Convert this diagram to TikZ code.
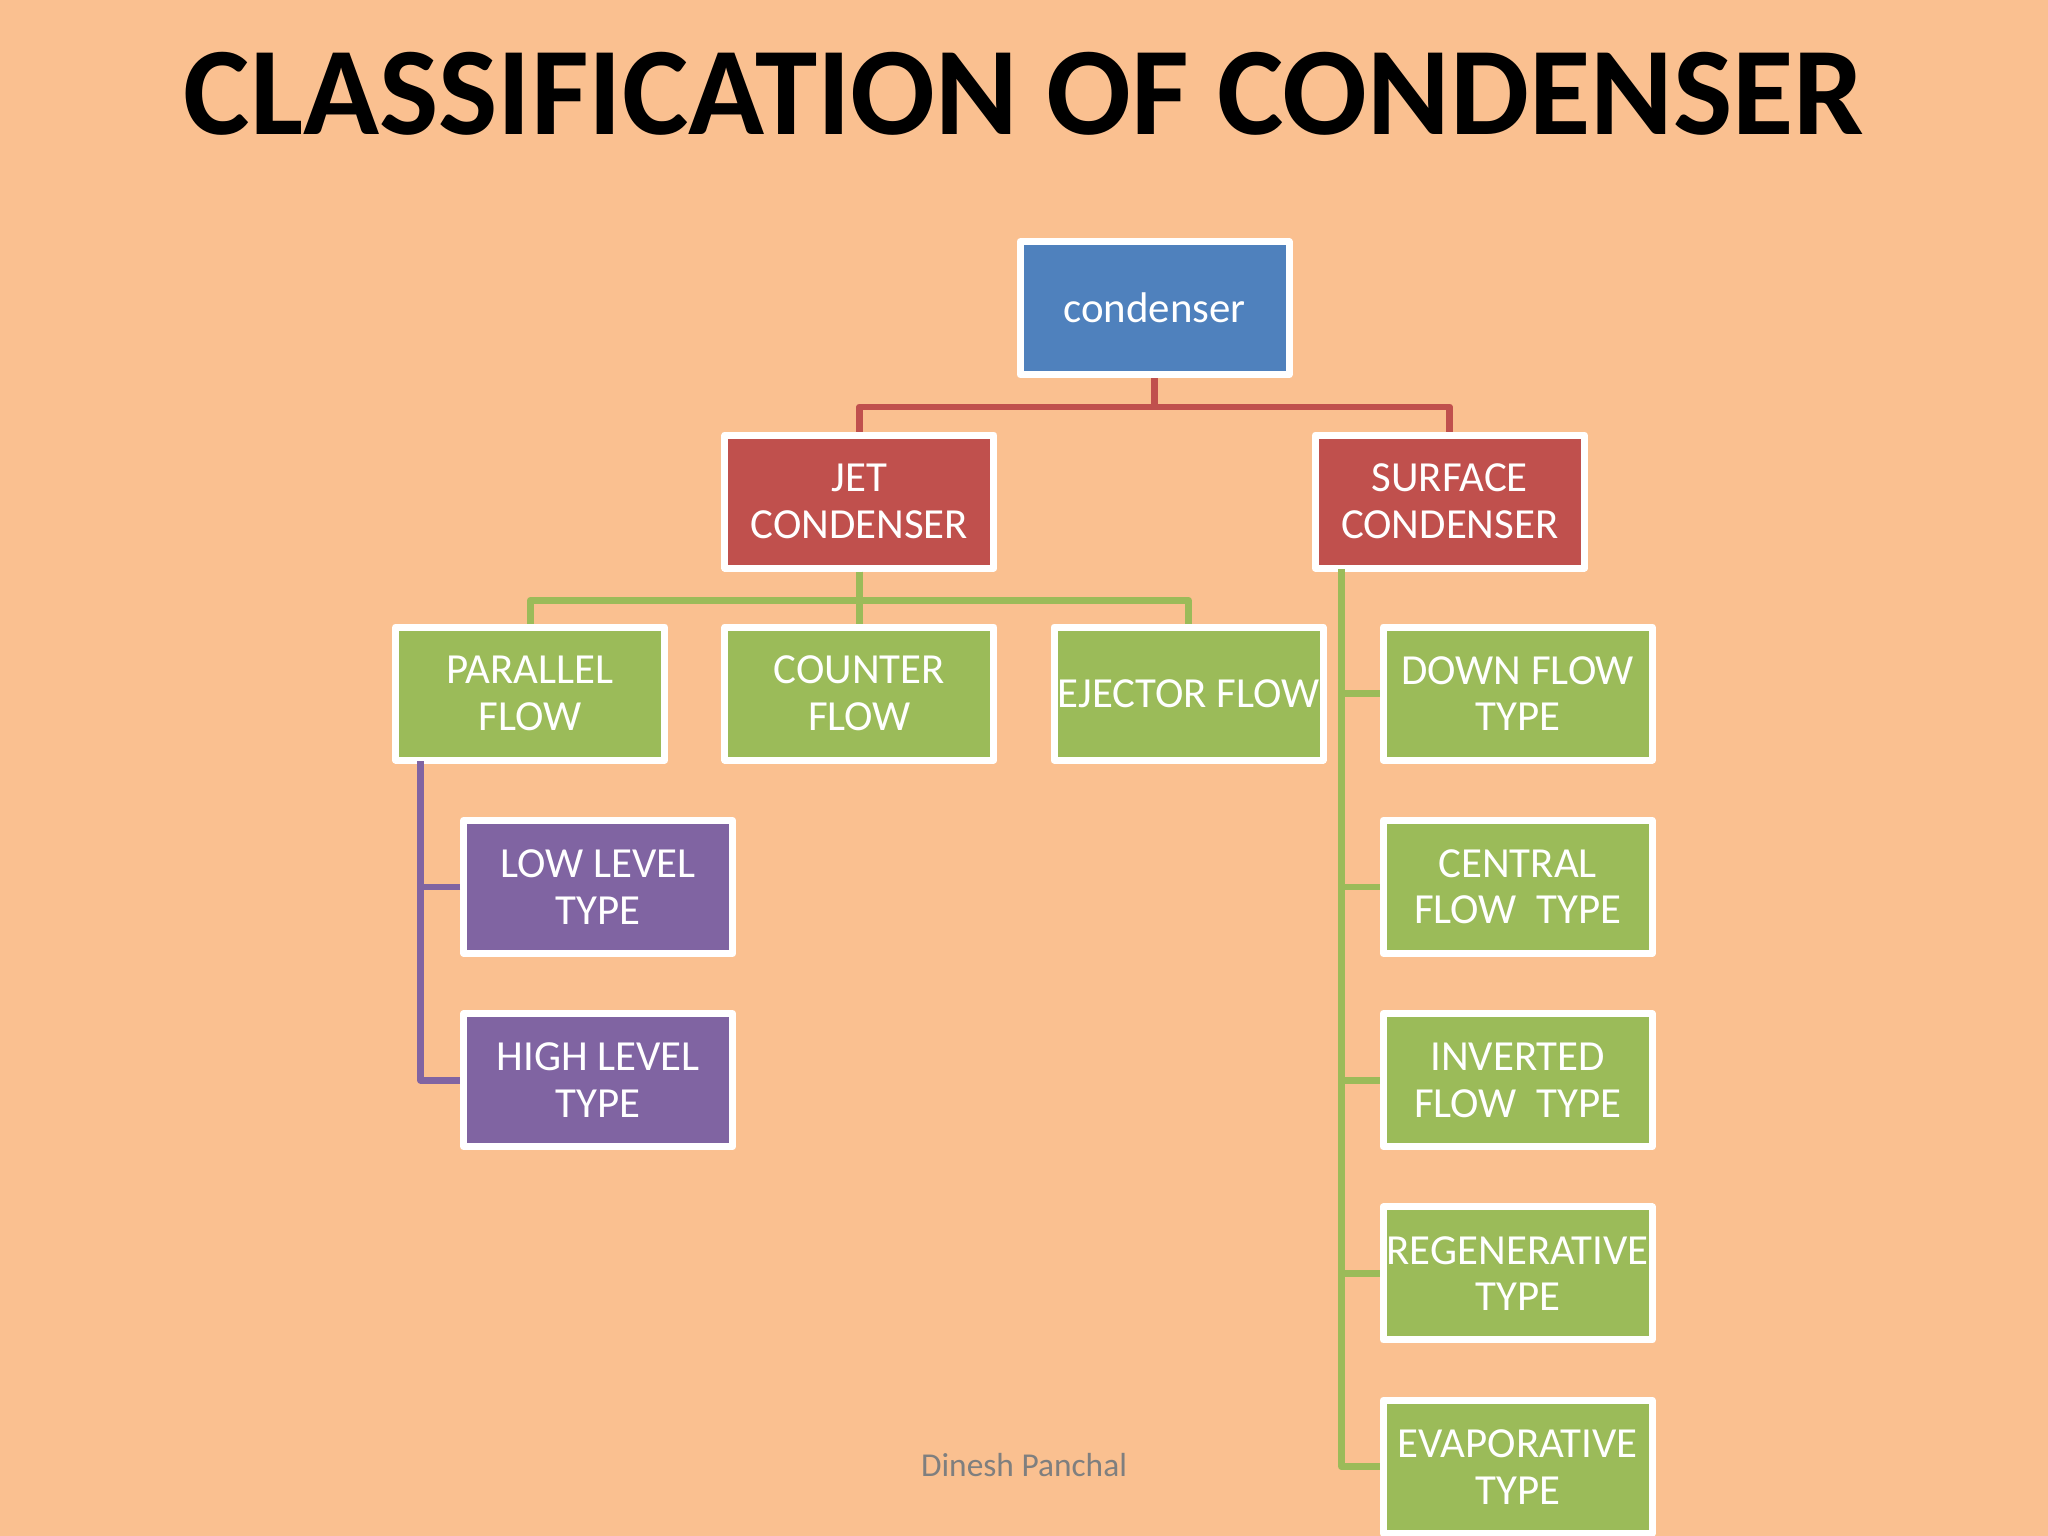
\documentclass[tikz,border=0pt]{standalone}
\usepackage{fontspec}
\setmainfont{Carlito}
\usepackage{tikz}

\definecolor{peach}{HTML}{FAC090}
\definecolor{boxblue}{HTML}{4F81BD}
\definecolor{boxred}{HTML}{C0504D}
\definecolor{boxgreen}{HTML}{9BBB59}
\definecolor{boxpurple}{HTML}{8064A2}
\definecolor{footgray}{HTML}{7F7F7F}

\begin{document}
\begin{tikzpicture}[x=0.01306cm, y=-0.01306cm, line join=round]
    \tikzstyle{box_style} = [rectangle, draw=white, line width=2pt, text=white, align=center, minimum width=2.69cm, minimum height=1.33cm, inner sep=0pt, font=\fontsize{12.2}{13.3}\selectfont]
    \tikzstyle{box_blue} = [box_style, fill=boxblue]
    \tikzstyle{box_red} = [box_style, fill=boxred]
    \tikzstyle{box_green} = [box_style, fill=boxgreen]
    \tikzstyle{box_purple} = [box_style, fill=boxpurple]
    \tikzstyle{edge_red} = [draw=boxred, line width=1.9pt]
    \tikzstyle{edge_green} = [draw=boxgreen, line width=1.9pt]
    \tikzstyle{edge_purple} = [draw=boxpurple, line width=1.9pt]

    \useasboundingbox (0,0) rectangle (1568,1176);
    \fill[peach] (0,0) rectangle (1568,1176);

    \node[font=\fontsize{35.7}{40}\bfseries\selectfont, anchor=base] (title) at (784,103) {CLASSIFICATION OF CONDENSER};

    \node[box_blue] (cond) at (884,236) {condenser};
    \node[box_red] (jet) at (658,384) {JET\\CONDENSER};
    \node[box_red] (surf) at (1110,384) {SURFACE\\CONDENSER};

    \node[box_green] (par) at (406,531) {PARALLEL\\FLOW};
    \node[box_green] (cnt) at (658,531) {COUNTER\\FLOW};
    \node[box_green] (ejc) at (910,531) {EJECTOR FLOW};

    \node[box_green] (down) at (1162,531) {DOWN FLOW\\TYPE};
    \node[box_green] (cent) at (1162,679) {CENTRAL\\FLOW\ \ TYPE};
    \node[box_green] (inv) at (1162,827) {INVERTED\\FLOW\ \ TYPE};
    \node[box_green] (regen) at (1162,975) {REGENERATIVE\\TYPE};
    \node[box_green] (evap) at (1162,1123) {EVAPORATIVE\\TYPE};

    \node[box_purple] (low) at (458,679) {LOW LEVEL\\TYPE};
    \node[box_purple] (high) at (458,827) {HIGH LEVEL\\TYPE};

    \node[text=footgray, font=\fontsize{9.5}{11}\selectfont] (foot) at (784,1122) {Dinesh Panchal};

    \coordinate (strunk) at (1027,436);
    \coordinate (ptrunk) at (322,583);

    \draw[edge_red] (cond.south) -- ++(0,22) -| (jet.north);
    \draw[edge_red] (cond.south) ++(0,22) -| (surf.north);

    \draw[edge_green] (jet.south) -- ++(0,22) -| (par.north);
    \draw[edge_green] (jet.south) -- (cnt.north);
    \draw[edge_green] (jet.south) ++(0,22) -| (ejc.north);

    \draw[edge_green] (strunk) |- (evap.west);
    \draw[edge_green] (down.west) -- (down.west -| strunk);
    \draw[edge_green] (cent.west) -- (cent.west -| strunk);
    \draw[edge_green] (inv.west) -- (inv.west -| strunk);
    \draw[edge_green] (regen.west) -- (regen.west -| strunk);

    \draw[edge_purple] (ptrunk) |- (high.west);
    \draw[edge_purple] (low.west) -- (low.west -| ptrunk);
\end{tikzpicture}
\end{document}
